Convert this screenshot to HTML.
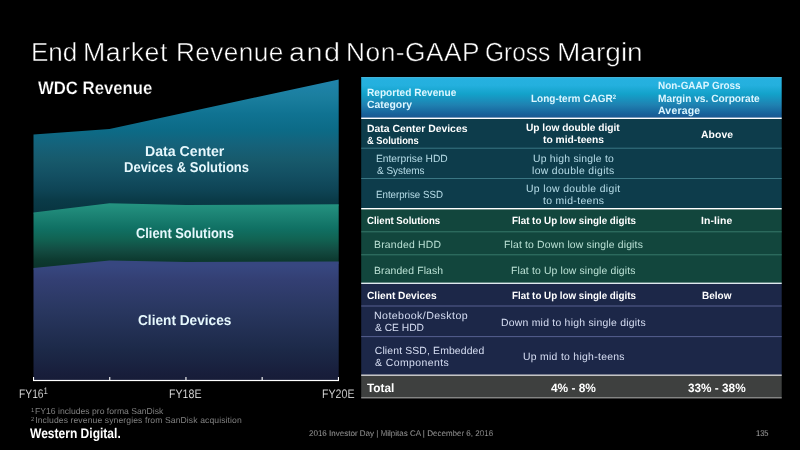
<!DOCTYPE html>
<html lang="en"><head><meta charset="utf-8"><title>End Market Revenue and Non-GAAP Gross Margin</title>
<style>
html,body{margin:0;padding:0;background:#000;}
body{width:800px;height:450px;position:relative;overflow:hidden;font-family:"Liberation Sans", sans-serif;color:#fff;text-rendering:geometricPrecision;}
.t{position:absolute;white-space:nowrap;line-height:normal;transform-origin:0 0;display:block;}
sup{font-size:75%;vertical-align:baseline;position:relative;top:-0.4em;line-height:0;}
svg{position:absolute;left:0;top:0;}
h1{margin:0;font-size:0;font-weight:400;}
sup.f{margin-right:-1.6px;font-size:68%;}
sup.c{font-size:60%;top:-.36em;}
.h{-webkit-text-stroke:.5px #000;}
.k{-webkit-text-stroke:.25px #000;}

</style></head><body>
<svg width="800" height="450" viewBox="0 0 800 450">
<defs>
<linearGradient id="gb" gradientUnits="userSpaceOnUse" x1="0" y1="79" x2="0" y2="213">
<stop offset="0" stop-color="#2185ad"/><stop offset="0.14" stop-color="#1a7e9e"/><stop offset="0.26" stop-color="#107392"/><stop offset="0.38" stop-color="#0c6b87"/><stop offset="0.49" stop-color="#15627a"/><stop offset="0.6" stop-color="#175a6c"/><stop offset="0.72" stop-color="#134f62"/><stop offset="0.83" stop-color="#0e4455"/><stop offset="0.9" stop-color="#0a3b48"/><stop offset="1" stop-color="#083440"/>
</linearGradient>
<linearGradient id="gg" gradientUnits="userSpaceOnUse" x1="0" y1="203" x2="0" y2="268">
<stop offset="0.03" stop-color="#23927f"/><stop offset="0.185" stop-color="#1c8374"/><stop offset="0.385" stop-color="#107164"/><stop offset="0.554" stop-color="#116353"/><stop offset="0.723" stop-color="#134c42"/><stop offset="0.877" stop-color="#0d3a30"/><stop offset="1" stop-color="#0b332a"/>
</linearGradient>
<linearGradient id="gp" gradientUnits="userSpaceOnUse" x1="0" y1="260" x2="0" y2="380">
<stop offset="0.05" stop-color="#374780"/><stop offset="0.167" stop-color="#333f73"/><stop offset="0.417" stop-color="#293760"/><stop offset="0.75" stop-color="#1c2948"/><stop offset="0.95" stop-color="#181e3b"/><stop offset="1" stop-color="#171c38"/>
</linearGradient>
<linearGradient id="gh" x1="0" y1="0" x2="0" y2="1">
<stop offset="0" stop-color="#26b1e0"/><stop offset="0.2" stop-color="#24b0de"/><stop offset="0.41" stop-color="#13a2ca"/><stop offset="0.68" stop-color="#1f81b1"/><stop offset="0.9" stop-color="#17619a"/><stop offset="1" stop-color="#1c5790"/>
</linearGradient>
</defs>
<!-- chart areas -->
<polygon fill="url(#gb)" points="33.5,134.6 109.5,129 338.7,79.5 338.7,206 33.5,214"/>
<polygon fill="url(#gg)" points="33.5,212.5 109.5,203.3 186,205 338.7,204.3 338.7,264 33.5,270"/>
<polygon fill="url(#gp)" points="33.5,268 109.5,260.5 186,262 338.7,261.6 338.7,380 33.5,380"/>
<!-- axis -->
<g fill="#fff">
<rect x="33" y="379.9" width="306" height="1.2"/>
<rect x="33" y="377" width="1.1" height="3.5"/>
<rect x="109.2" y="377" width="1.1" height="3.5"/>
<rect x="185.4" y="377" width="1.1" height="3.5"/>
<rect x="261.6" y="377" width="1.1" height="3.5"/>
<rect x="337.9" y="377" width="1.1" height="3.5"/>
</g>
<!-- table -->
<rect x="361.2" y="77.1" width="420.5" height="41" fill="url(#gh)"/>
<rect x="361.2" y="77.1" width="420.5" height="1" fill="#6fd0f0" opacity=".45"/>
<rect x="361.2" y="118" width="420.5" height="91" fill="#0d3c4b"/>
<rect x="361.2" y="208.5" width="420.5" height="75" fill="#12463d"/>
<rect x="361.2" y="283" width="420.5" height="93" fill="#1c2748"/>
<rect x="361.2" y="375.2" width="420.5" height="22.6" fill="#3e403f"/>
<g fill="#fff">
<rect x="361.2" y="117.6" width="420.5" height="1.4"/>
<rect x="361.2" y="208" width="420.5" height="1.4"/>
</g>
<rect x="361.2" y="282.6" width="420.5" height="1.4" fill="#dfe8ee"/>
<rect x="361.2" y="374.5" width="420.5" height="1.4" fill="#d4d4d4"/>
<rect x="361.2" y="397.2" width="420.5" height="1.2" fill="#9a9a9a"/>
<g fill="#3a7683"><rect x="361.2" y="147.7" width="420.5" height="1"/><rect x="361.2" y="178" width="420.5" height="1"/></g>
<g fill="#37786a"><rect x="361.2" y="231.3" width="420.5" height="1"/><rect x="361.2" y="254.3" width="420.5" height="1"/></g>
<g fill="#566090"><rect x="361.2" y="305.5" width="420.5" height="1"/><rect x="361.2" y="336.1" width="420.5" height="1"/></g>
</svg>

<h1><span class="t h" style="left:30.54px;top:37.29px;font-size:26.2px;transform:scaleX(0.9938);">End</span> <span class="t h" style="left:83.47px;top:37.29px;font-size:26.2px;letter-spacing:0.524px;transform:scaleX(1.022);">Market</span> <span class="t h" style="left:176.13px;top:37.29px;font-size:26.2px;letter-spacing:0.433px;transform:scaleX(0.9996);">Revenue</span> <span class="t h" style="left:289.12px;top:37.29px;font-size:26.2px;letter-spacing:1.31px;transform:scaleX(1.0985);">and</span> <span class="t h" style="left:346.07px;top:37.29px;font-size:26.2px;letter-spacing:0.524px;transform:scaleX(1.0031);">Non-GAAP</span> <span class="t h" style="left:485.16px;top:37.29px;font-size:26.2px;transform:scaleX(0.9332);">Gross</span> <span class="t h" style="left:556.57px;top:37.29px;font-size:26.2px;transform:scaleX(1.0707);">Margin</span></h1>
<span class="t k" style="left:37.99px;top:77.71px;font-size:18px;font-weight:700;transform:scaleX(0.9292);">WDC Revenue</span>
<span class="t" style="left:144.91px;top:144.06px;font-size:14.3px;font-weight:700;color:#e6f8fd;transform:scaleX(0.9891);">Data Center</span>
<span class="t" style="left:124.05px;top:160.06px;font-size:14.3px;font-weight:700;color:#e6f8fd;transform:scaleX(0.9098);">Devices &amp; Solutions</span>
<span class="t" style="left:135.78px;top:226.06px;font-size:14.3px;font-weight:700;color:#e6f8fd;transform:scaleX(0.899);">Client Solutions</span>
<span class="t" style="left:137.67px;top:313.06px;font-size:14.3px;font-weight:700;color:#e6f8fd;transform:scaleX(0.9558);">Client Devices</span>
<span class="t k" style="left:18.79px;top:386.78px;font-size:12.4px;transform:scaleX(0.8296);">FY16<sup>1</sup></span>
<span class="t k" style="left:169.03px;top:386.78px;font-size:12.4px;transform:scaleX(0.8585);">FY18E</span>
<span class="t k" style="left:322.03px;top:386.78px;font-size:12.4px;transform:scaleX(0.8585);">FY20E</span>
<span class="t" style="left:31.18px;top:406.22px;font-size:8.6px;color:#808080;transform:scaleX(1.0021);"><sup class="f">1</sup> FY16 includes pro forma SanDisk</span>
<span class="t" style="left:31.21px;top:415.22px;font-size:8.6px;color:#808080;letter-spacing:0.1px;transform:scaleX(0.9996);"><sup class="f">2</sup> Includes revenue synergies from SanDisk acquisition</span>
<span class="t" style="left:30.17px;top:425.33px;font-size:14px;font-weight:700;transform:scaleX(0.8596);">Western Digital.</span>
<span class="t k" style="left:309.17px;top:428.58px;font-size:8.2px;color:#d8d8d8;transform:scaleX(0.9787);">2016 Investor Day | Milpitas CA | December 6, 2016</span>
<span class="t k" style="left:756.03px;top:428.4px;font-size:8.4px;color:#e0e0e0;transform:scaleX(0.8989);">135</span>
<span class="t" style="left:367.21px;top:86.5px;font-size:10.5px;font-weight:700;color:#dcf6ff;transform:scaleX(0.9624);">Reported Revenue</span>
<span class="t" style="left:367.45px;top:98.5px;font-size:10.5px;font-weight:700;color:#dcf6ff;transform:scaleX(0.988);">Category</span>
<span class="t" style="left:530.69px;top:92.5px;font-size:10.5px;font-weight:700;color:#dcf6ff;transform:scaleX(0.9525);">Long-term CAGR<sup class="c">2</sup></span>
<span class="t" style="left:657.91px;top:79.5px;font-size:10.5px;font-weight:700;color:#dcf6ff;transform:scaleX(0.9465);">Non-GAAP Gross</span>
<span class="t" style="left:657.55px;top:92.5px;font-size:10.5px;font-weight:700;color:#dcf6ff;transform:scaleX(0.9687);">Margin vs. Corporate</span>
<span class="t" style="left:657.87px;top:104.5px;font-size:10.5px;font-weight:700;color:#dcf6ff;letter-spacing:0.187px;transform:scaleX(0.9985);">Average</span>
<span class="t" style="left:366.84px;top:123.59px;font-size:10.4px;font-weight:700;letter-spacing:0px;transform:scaleX(0.9996);">Data Center Devices</span>
<span class="t" style="left:367.34px;top:135.59px;font-size:10.4px;font-weight:700;transform:scaleX(0.8956);">&amp; Solutions</span>
<span class="t" style="left:526.49px;top:122.59px;font-size:10.4px;font-weight:700;transform:scaleX(0.9781);">Up low double digit</span>
<span class="t" style="left:543.44px;top:134.59px;font-size:10.4px;font-weight:700;transform:scaleX(0.9884);">to mid-teens</span>
<span class="t" style="left:700.71px;top:129.59px;font-size:10.4px;font-weight:700;letter-spacing:0.092px;transform:scaleX(1.001);">Above</span>
<span class="t" style="left:375.77px;top:153.59px;font-size:10.4px;color:rgba(200,236,247,.9);transform:scaleX(0.9849);">Enterprise HDD</span>
<span class="t" style="left:376.59px;top:165.59px;font-size:10.4px;color:rgba(200,236,247,.9);transform:scaleX(0.9584);">&amp; Systems</span>
<span class="t" style="left:532.78px;top:153.59px;font-size:10.4px;color:rgba(200,236,247,.9);letter-spacing:0.224px;transform:scaleX(0.9975);">Up high single to</span>
<span class="t" style="left:532.35px;top:165.59px;font-size:10.4px;color:rgba(200,236,247,.9);letter-spacing:0.341px;transform:scaleX(0.9991);">low double digits</span>
<span class="t" style="left:375.94px;top:189.59px;font-size:10.4px;color:rgba(200,236,247,.9);transform:scaleX(0.9346);">Enterprise SSD</span>
<span class="t" style="left:525.9px;top:183.59px;font-size:10.4px;color:rgba(200,236,247,.9);letter-spacing:0.362px;transform:scaleX(0.9988);">Up low double digit</span>
<span class="t" style="left:543.42px;top:195.59px;font-size:10.4px;color:rgba(200,236,247,.9);letter-spacing:0.324px;transform:scaleX(1.0039);">to mid-teens</span>
<span class="t" style="left:366.9px;top:215.59px;font-size:10.4px;font-weight:700;transform:scaleX(0.9251);">Client Solutions</span>
<span class="t" style="left:511.77px;top:215.59px;font-size:10.4px;font-weight:700;transform:scaleX(0.9418);">Flat to Up low single digits</span>
<span class="t" style="left:701.42px;top:215.59px;font-size:10.4px;font-weight:700;letter-spacing:0.084px;transform:scaleX(1.0025);">In-line</span>
<span class="t" style="left:373.8px;top:239.59px;font-size:10.4px;color:rgba(205,242,230,.9);letter-spacing:0.241px;transform:scaleX(0.9984);">Branded HDD</span>
<span class="t" style="left:504.12px;top:239.59px;font-size:10.4px;color:rgba(205,242,230,.9);letter-spacing:0.171px;transform:scaleX(0.9992);">Flat to Down low single digits</span>
<span class="t" style="left:373.8px;top:265.59px;font-size:10.4px;color:rgba(205,242,230,.9);letter-spacing:0.13px;transform:scaleX(0.9993);">Branded Flash</span>
<span class="t" style="left:511.12px;top:265.59px;font-size:10.4px;color:rgba(205,242,230,.9);letter-spacing:0.141px;transform:scaleX(0.9996);">Flat to Up low single digits</span>
<span class="t" style="left:366.8px;top:290.59px;font-size:10.4px;font-weight:700;transform:scaleX(0.9795);">Client Devices</span>
<span class="t" style="left:511.77px;top:290.59px;font-size:10.4px;font-weight:700;transform:scaleX(0.9418);">Flat to Up low single digits</span>
<span class="t" style="left:702.09px;top:290.59px;font-size:10.4px;font-weight:700;transform:scaleX(0.9614);">Below</span>
<span class="t" style="left:374.25px;top:310.59px;font-size:10.4px;color:rgba(222,230,250,.95);letter-spacing:0.416px;transform:scaleX(1.021);">Notebook/Desktop</span>
<span class="t" style="left:374.6px;top:322.59px;font-size:10.4px;color:rgba(222,230,250,.95);transform:scaleX(0.9851);">&amp; CE HDD</span>
<span class="t" style="left:501.33px;top:317.59px;font-size:10.4px;color:rgba(222,230,250,.95);letter-spacing:0.246px;transform:scaleX(1.0006);">Down mid to high single digits</span>
<span class="t" style="left:374.76px;top:345.59px;font-size:10.4px;color:rgba(222,230,250,.95);letter-spacing:0.143px;transform:scaleX(1);">Client SSD, Embedded</span>
<span class="t" style="left:374.95px;top:357.59px;font-size:10.4px;color:rgba(222,230,250,.95);letter-spacing:0.416px;transform:scaleX(1.0063);">&amp; Components</span>
<span class="t" style="left:522.61px;top:351.59px;font-size:10.4px;color:rgba(222,230,250,.95);letter-spacing:0.31px;transform:scaleX(0.9978);">Up mid to high-teens</span>
<span class="t" style="left:367.15px;top:381.05px;font-size:12.1px;font-weight:700;transform:scaleX(0.9769);">Total</span>
<span class="t" style="left:551px;top:381.05px;font-size:12.1px;font-weight:700;transform:scaleX(0.9834);">4% - 8%</span>
<span class="t" style="left:687.55px;top:381.05px;font-size:12.1px;font-weight:700;transform:scaleX(0.974);">33% - 38%</span>
</body></html>
